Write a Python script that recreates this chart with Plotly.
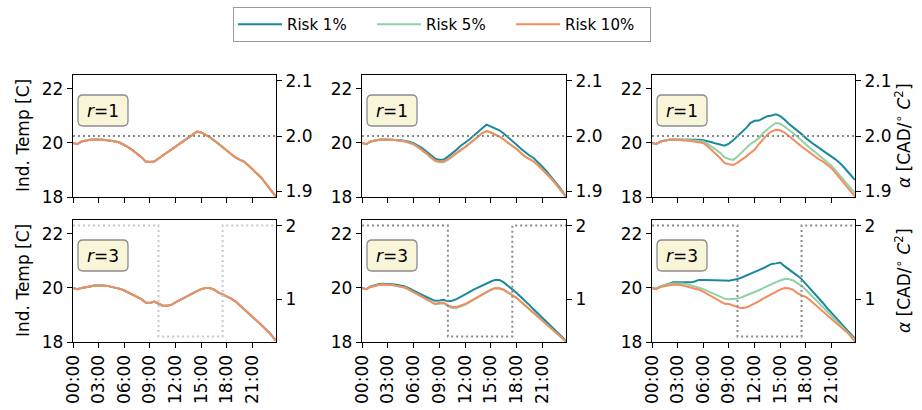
import plotly.graph_objects as go

# ---------------- data ----------------
hours = [i * 0.5 for i in range(48)] + [23.75]
tick_hours = [0, 3, 6, 9, 12, 15, 18, 21]
tick_labels = ["00:00", "03:00", "06:00", "09:00", "12:00", "15:00", "18:00", "21:00"]
risk_names = ["Risk 1%", "Risk 5%", "Risk 10%"]
risk_colors = ["#1a8a9a", "#92d0a6", "#f48c5f"]
r_labels = ["1", "3"]

# Row r=1 (alpha constant)
temp_r1_col1 = [19.99, 19.95, 20.05, 20.09, 20.11, 20.12, 20.12, 20.11, 20.09, 20.07, 20.05, 20.00,
                19.93, 19.83, 19.72, 19.60, 19.47, 19.31, 19.29, 19.31, 19.43, 19.53, 19.64, 19.75,
                19.86, 19.98, 20.11, 20.22, 20.33, 20.41, 20.38, 20.30, 20.21, 20.09, 19.96, 19.83,
                19.71, 19.58, 19.46, 19.38, 19.31, 19.17, 19.02, 18.87, 18.72, 18.52, 18.32, 18.10, 18.01]

temp_r1_col2_risk1 = [19.99, 19.95, 20.05, 20.09, 20.11, 20.12, 20.12, 20.11, 20.10, 20.09, 20.07, 20.04,
                      19.99, 19.90, 19.80, 19.68, 19.56, 19.42, 19.37, 19.37, 19.49, 19.60, 19.74, 19.89,
                      19.99, 20.12, 20.26, 20.41, 20.54, 20.67, 20.60, 20.54, 20.46, 20.34, 20.21, 20.07,
                      19.93, 19.78, 19.64, 19.53, 19.43, 19.28, 19.12, 18.94, 18.75, 18.56, 18.36, 18.13, 18.04]
temp_r1_col2_risk5 = [19.99, 19.95, 20.05, 20.09, 20.11, 20.12, 20.12, 20.11, 20.09, 20.07, 20.05, 20.00,
                      19.94, 19.84, 19.73, 19.60, 19.46, 19.32, 19.28, 19.28, 19.37, 19.50, 19.62, 19.73,
                      19.84, 19.96, 20.09, 20.22, 20.36, 20.43, 20.38, 20.31, 20.23, 20.12, 20.01, 19.89,
                      19.77, 19.62, 19.49, 19.40, 19.31, 19.17, 19.02, 18.86, 18.69, 18.50, 18.30, 18.09, 18.01]
temp_r1_col2_risk10 = [19.99, 19.95, 20.05, 20.09, 20.11, 20.12, 20.12, 20.11, 20.09, 20.07, 20.05, 20.00,
                       19.95, 19.85, 19.74, 19.61, 19.47, 19.35, 19.31, 19.31, 19.40, 19.52, 19.64, 19.74,
                       19.84, 19.96, 20.09, 20.22, 20.36, 20.43, 20.38, 20.31, 20.23, 20.12, 20.01, 19.89,
                       19.77, 19.62, 19.49, 19.40, 19.31, 19.17, 19.02, 18.86, 18.69, 18.50, 18.30, 18.09, 18.01]

temp_r1_col3_risk1 = [19.99, 19.96, 20.05, 20.09, 20.11, 20.12, 20.12, 20.12, 20.12, 20.12, 20.12, 20.11,
                      20.09, 20.06, 20.02, 19.97, 19.93, 19.89, 19.97, 20.09, 20.25, 20.40, 20.54, 20.73,
                      20.81, 20.82, 20.91, 20.98, 21.01, 21.05, 20.98, 20.86, 20.70, 20.58, 20.46, 20.32,
                      20.17, 20.04, 19.93, 19.82, 19.72, 19.61, 19.49, 19.38, 19.25, 19.08, 18.88, 18.72, 18.63]
temp_r1_col3_risk5 = [19.99, 19.96, 20.05, 20.09, 20.11, 20.12, 20.12, 20.11, 20.10, 20.09, 20.08, 20.07,
                      20.05, 19.96, 19.86, 19.74, 19.62, 19.46, 19.40, 19.37, 19.49, 19.64, 19.77, 19.95,
                      20.05, 20.17, 20.36, 20.51, 20.63, 20.73, 20.70, 20.60, 20.48, 20.38, 20.23, 20.08,
                      19.93, 19.80, 19.68, 19.55, 19.43, 19.29, 19.15, 18.97, 18.78, 18.60, 18.41, 18.22, 18.14]
temp_r1_col3_risk10 = [19.99, 19.95, 20.05, 20.09, 20.11, 20.12, 20.11, 20.10, 20.09, 20.07, 20.04, 20.02,
                       19.99, 19.87, 19.74, 19.58, 19.43, 19.25, 19.21, 19.18, 19.27, 19.37, 19.49, 19.62,
                       19.74, 19.95, 20.11, 20.30, 20.42, 20.48, 20.46, 20.38, 20.26, 20.14, 19.99, 19.86,
                       19.74, 19.61, 19.49, 19.40, 19.31, 19.19, 19.06, 18.88, 18.69, 18.51, 18.32, 18.11, 18.02]

# Row r=3 (alpha schedule)
temp_r3_col1 = [19.99, 19.95, 19.99, 20.03, 20.05, 20.08, 20.09, 20.08, 20.07, 20.04, 20.01, 19.96,
                19.90, 19.82, 19.74, 19.66, 19.58, 19.46, 19.44, 19.49, 19.41, 19.34, 19.34, 19.37,
                19.46, 19.55, 19.64, 19.72, 19.80, 19.88, 19.95, 19.99, 19.99, 19.93, 19.83, 19.76,
                19.68, 19.60, 19.50, 19.35, 19.20, 19.06, 18.92, 18.78, 18.64, 18.49, 18.33, 18.14, 18.05]

temp_r3_col2_risk1 = [19.99, 19.95, 20.05, 20.10, 20.14, 20.15, 20.15, 20.13, 20.11, 20.08, 20.05, 19.98,
                      19.89, 19.82, 19.74, 19.66, 19.58, 19.52, 19.53, 19.56, 19.50, 19.52, 19.58, 19.66,
                      19.74, 19.84, 19.93, 20.01, 20.09, 20.16, 20.23, 20.29, 20.29, 20.20, 20.08, 19.95,
                      19.81, 19.66, 19.52, 19.36, 19.20, 19.05, 18.89, 18.74, 18.59, 18.44, 18.29, 18.12, 18.03]
temp_r3_col2_risk5 = [19.99, 19.95, 20.03, 20.08, 20.11, 20.12, 20.12, 20.10, 20.07, 20.04, 20.00, 19.92,
                      19.83, 19.75, 19.67, 19.58, 19.48, 19.39, 19.41, 19.43, 19.32, 19.25, 19.25, 19.30,
                      19.37, 19.46, 19.55, 19.65, 19.75, 19.84, 19.92, 19.98, 19.97, 19.92, 19.83, 19.74,
                      19.62, 19.48, 19.34, 19.20, 19.06, 18.92, 18.78, 18.65, 18.52, 18.39, 18.24, 18.08, 18.02]
temp_r3_col2_risk10 = [19.99, 19.95, 20.03, 20.08, 20.11, 20.12, 20.12, 20.10, 20.07, 20.04, 20.01, 19.93,
                       19.84, 19.76, 19.68, 19.59, 19.50, 19.41, 19.44, 19.46, 19.35, 19.29, 19.29, 19.34,
                       19.40, 19.49, 19.58, 19.68, 19.78, 19.86, 19.93, 19.99, 19.98, 19.93, 19.83, 19.75,
                       19.63, 19.49, 19.35, 19.21, 19.07, 18.93, 18.78, 18.66, 18.53, 18.39, 18.25, 18.08, 18.02]

temp_r3_col3_risk1 = [19.99, 19.96, 20.05, 20.10, 20.14, 20.20, 20.20, 20.20, 20.20, 20.20, 20.23, 20.29,
                      20.29, 20.29, 20.28, 20.28, 20.27, 20.27, 20.26, 20.29, 20.32, 20.38, 20.44, 20.51,
                      20.58, 20.65, 20.72, 20.80, 20.88, 20.90, 20.93, 20.80, 20.69, 20.56, 20.45, 20.32,
                      20.15, 19.98, 19.80, 19.62, 19.44, 19.25, 19.07, 18.89, 18.71, 18.54, 18.37, 18.20, 18.12]
temp_r3_col3_risk5 = [19.99, 19.96, 20.05, 20.10, 20.14, 20.16, 20.17, 20.16, 20.14, 20.10, 20.05, 20.00,
                      19.95, 19.88, 19.80, 19.73, 19.66, 19.60, 19.58, 19.58, 19.60, 19.65, 19.71, 19.77,
                      19.83, 19.91, 19.99, 20.07, 20.15, 20.21, 20.27, 20.32, 20.32, 20.27, 20.17, 20.07,
                      19.93, 19.77, 19.61, 19.45, 19.29, 19.12, 18.96, 18.80, 18.64, 18.48, 18.32, 18.16, 18.08]
temp_r3_col3_risk10 = [19.99, 19.95, 20.03, 20.07, 20.09, 20.11, 20.12, 20.09, 20.05, 20.02, 19.99, 19.93,
                       19.86, 19.77, 19.68, 19.59, 19.50, 19.41, 19.40, 19.34, 19.29, 19.25, 19.27, 19.34,
                       19.41, 19.50, 19.60, 19.69, 19.78, 19.86, 19.93, 19.99, 19.98, 19.93, 19.80, 19.72,
                       19.66, 19.54, 19.41, 19.27, 19.13, 18.99, 18.85, 18.71, 18.57, 18.43, 18.30, 18.11, 18.02]

alpha_r1 = [2.0] * 49
alpha_r3 = [2.0] * 20 + [0.5] * 15 + [2.0] * 14

panel_temps = [
    [temp_r1_col1, temp_r1_col1, temp_r1_col1],
    [temp_r1_col2_risk1, temp_r1_col2_risk5, temp_r1_col2_risk10],
    [temp_r1_col3_risk1, temp_r1_col3_risk5, temp_r1_col3_risk10],
    [temp_r3_col1, temp_r3_col1, temp_r3_col1],
    [temp_r3_col2_risk1, temp_r3_col2_risk5, temp_r3_col2_risk10],
    [temp_r3_col3_risk1, temp_r3_col3_risk5, temp_r3_col3_risk10],
]
panel_alpha = [alpha_r1, alpha_r1, alpha_r1, alpha_r3, alpha_r3, alpha_r3]

left_title = "Ind. Temp [C]"
right_title = "<i>α</i> [CAD/<sup>∘</sup> <i>C</i><sup>2</sup>]"

# ---------------- layout geometry (pixels) ----------------
W, H = 922, 410
col_px = [(73, 276), (362, 566), (652, 855)]
row_px = [(75, 197), (220, 342)]
FONT = "DejaVu Sans"


def px_x(x):
    return x / W


def px_y(y):
    return 1 - y / H


fig = go.Figure()
layout = dict(
    width=W, height=H,
    margin=dict(l=0, r=0, t=0, b=0),
    paper_bgcolor="white", plot_bgcolor="white",
    font=dict(family=FONT, size=17, color="black"),
    showlegend=True,
    legend=dict(orientation="h", x=px_x(233), y=px_y(7), xanchor="left", yanchor="top",
                bordercolor="#9a9a9a", borderwidth=1, font=dict(size=15, family=FONT),
                itemwidth=44, entrywidth=80, entrywidthmode="pixels", tracegroupgap=0),
)
shapes = []
annotations = []

for k in range(6):
    r, c = divmod(k, 3)
    xn = f"x{k + 1}"
    yl = f"y{2 * k + 1}"
    yr = f"y{2 * k + 2}"
    x0, x1 = col_px[c]
    y0, y1 = row_px[r]
    for i in range(3):
        fig.add_trace(go.Scatter(
            x=hours, y=panel_temps[k][i], mode="lines", name=risk_names[i],
            line=dict(color=risk_colors[i], width=2), xaxis=xn, yaxis=yl,
            showlegend=(k == 0), legendgroup=risk_names[i]))
    dot_color = "#c8c8c8" if k == 3 else "#8a8a8a"
    fig.add_trace(go.Scatter(
        x=hours, y=panel_alpha[k], mode="lines", line_shape="hv",
        line=dict(color=dot_color, width=2, dash="2px,3px"),
        xaxis=xn, yaxis=yr, showlegend=False, hoverinfo="skip"))

    layout[f"xaxis{k + 1}"] = dict(
        domain=[px_x(x0), px_x(x1)], anchor=yl, range=[0, 23.75], automargin=False,
        tickvals=tick_hours, ticktext=tick_labels, tickangle=-90,
        showticklabels=(r == 1), ticks="outside", ticklen=5, tickwidth=1, tickcolor="black",
        showline=True, linecolor="black", linewidth=1.3, mirror=True,
        showgrid=False, zeroline=False, tickfont=dict(size=17))
    layout[f"yaxis{2 * k + 1}"] = dict(
        domain=[px_y(y1), px_y(y0)], anchor=xn, range=[18, 22.5], automargin=False,
        tickvals=[18, 20, 22], ticks="outside", ticklen=5, tickcolor="black",
        showline=True, linecolor="black", linewidth=1.3, showgrid=False, zeroline=False,
        tickfont=dict(size=17))
    if r == 0:
        rr = [1.89, 2.11]
        tv = [1.9, 2.0, 2.1]
        tt = ["1.9", "2.0", "2.1"]
    else:
        rr = [0.425, 2.075]
        tv = [1, 2]
        tt = ["1", "2"]
    layout[f"yaxis{2 * k + 2}"] = dict(
        overlaying=yl, side="right", anchor=xn, range=rr, tickvals=tv, ticktext=tt,
        automargin=False,
        ticks="outside", ticklen=5, tickcolor="black", showline=True, linecolor="black",
        linewidth=1.3, showgrid=False, zeroline=False, tickfont=dict(size=17))

    yc = px_y((y0 + y1) / 2)
    if c == 0:
        annotations.append(dict(text=left_title, x=px_x(23), y=yc, xref="paper", yref="paper",
                                textangle=-90, showarrow=False, font=dict(size=17, family=FONT),
                                xanchor="center", yanchor="middle"))
    if c == 2:
        annotations.append(dict(text=right_title, x=px_x(903), y=yc, xref="paper", yref="paper",
                                textangle=-90, showarrow=False, font=dict(size=17, family=FONT),
                                xanchor="center", yanchor="middle"))

    # rounded label box
    bx0, bx1 = x0 + 5, x0 + 55
    by0, by1 = y0 + 20, y0 + 51
    rad = 5
    path = (f"M {px_x(bx0 + rad)} {px_y(by0)} L {px_x(bx1 - rad)} {px_y(by0)} "
            f"Q {px_x(bx1)} {px_y(by0)} {px_x(bx1)} {px_y(by0 + rad)} "
            f"L {px_x(bx1)} {px_y(by1 - rad)} Q {px_x(bx1)} {px_y(by1)} {px_x(bx1 - rad)} {px_y(by1)} "
            f"L {px_x(bx0 + rad)} {px_y(by1)} Q {px_x(bx0)} {px_y(by1)} {px_x(bx0)} {px_y(by1 - rad)} "
            f"L {px_x(bx0)} {px_y(by0 + rad)} Q {px_x(bx0)} {px_y(by0)} {px_x(bx0 + rad)} {px_y(by0)} Z")
    shapes.append(dict(type="path", path=path, xref="paper", yref="paper",
                       fillcolor="#f8f5d8", line=dict(color="#8c8c8c", width=1.3), layer="above"))
    annotations.append(dict(text=f"<i>r</i>={r_labels[r]}", x=px_x((bx0 + bx1) / 2),
                            y=px_y((by0 + by1) / 2), xref="paper", yref="paper",
                            showarrow=False, font=dict(size=17, family=FONT),
                            xanchor="center", yanchor="middle"))

layout["shapes"] = shapes
layout["annotations"] = annotations
fig.update_layout(**layout)
fig.write_html(
    "out.html",
    config={"displayModeBar": False},
    post_script="document.body.style.margin='0';document.body.style.overflow='hidden';",
)
